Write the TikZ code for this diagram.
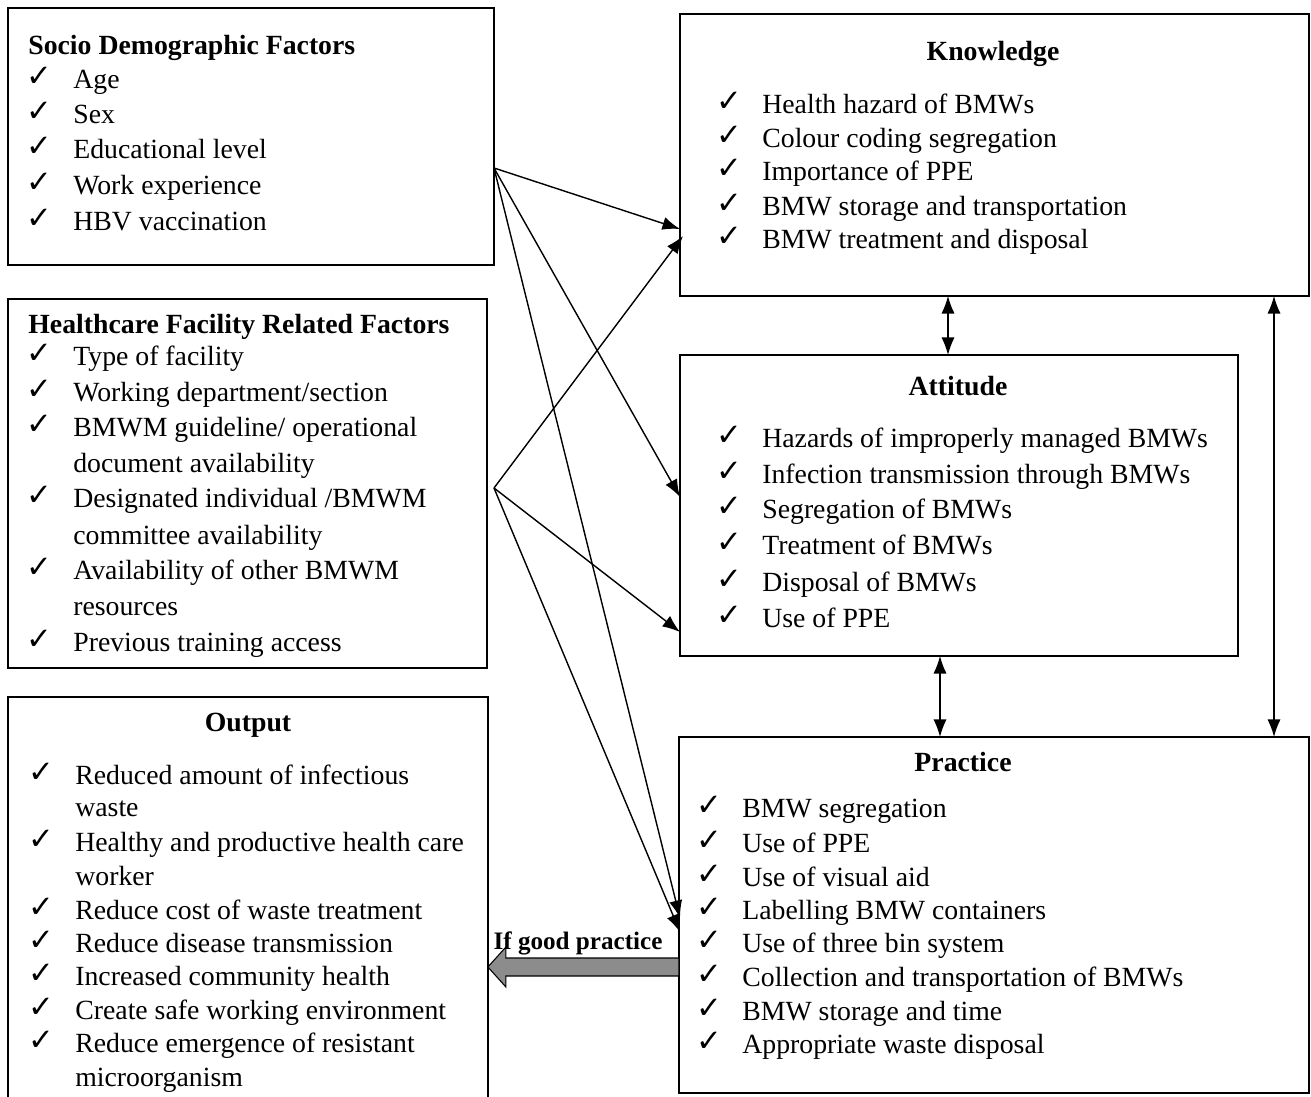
\documentclass[tikz,border=0pt]{standalone}
\usepackage{fontspec}
\setmainfont{Liberation Serif}
\newfontfamily\checkfont{DejaVu Sans}
\usetikzlibrary{calc,arrows.meta,positioning}
\tikzstyle{box} = [draw,line width=1pt,anchor=north west,inner sep=0pt,outer sep=0pt]
\tikzstyle{title} = [font=\fontsize{15.8}{20}\selectfont\bfseries,inner sep=0pt,anchor=base]
\tikzstyle{item} = [font=\fontsize{15.8}{20}\selectfont,anchor=base west,inner sep=0pt]
\tikzstyle{tick} = [font=\checkfont\fontsize{17.5}{20}\selectfont,anchor=base,inner sep=0pt]
\tikzstyle{link} = [->,line width=0.8pt]
\tikzstyle{both} = [<->,line width=0.8pt]

\begin{document}
\begin{tikzpicture}[x=0.02cm,y=-0.02cm,>={Latex[length=10pt,width=7.5pt]}]
\useasboundingbox (0,0) rectangle (1311,1097);

%%% Draw boxes
\node[box,minimum width=9.72cm,minimum height=5.14cm] (socio) at (8,8) {};
\node[box,minimum width=9.58cm,minimum height=7.38cm] (facility) at (8,299) {};
\node[box,draw=none,minimum width=9.6cm,minimum height=8cm] (output) at (8,697) {};
\draw[line width=1pt] (output.south west) -- (output.north west) -- (output.north east) -- (output.south east);
\node[box,minimum width=12.58cm,minimum height=5.64cm] (knowledge) at (680,14) {};
\node[box,minimum width=11.16cm,minimum height=6.02cm] (attitude) at (680,355) {};
\node[box,minimum width=12.6cm,minimum height=7.12cm] (practice) at (679,737) {};

%%% Socio demographic factors
\node[title,anchor=base west] (sotitle) at (28,55) {Socio Demographic Factors};
\foreach \y/\c/\t [count=\i] in {80/1/Age,115/1/Sex,150/1/Educational level,186/1/Work experience,222/1/HBV vaccination} {
    \ifnum\c=1 \node[tick] (sotick\i) at (39,\y+7) {✓}; \fi
    \node[item] (soitem\i) at (73,\y+9) {\t};
}

%%% Healthcare facility factors
\node[title,anchor=base west] (hftitle) at (28,334) {Healthcare Facility Related Factors};
\foreach \y/\c/\t [count=\i] in {357/1/Type of facility,393/1/{Working department/section},428/1/{BMWM guideline/ operational},464/0/document availability,499/1/{Designated individual /BMWM},536/0/committee availability,571/1/Availability of other BMWM,606/0/resources,642/1/Previous training access} {
    \ifnum\c=1 \node[tick] (hftick\i) at (39,\y+7) {✓}; \fi
    \node[item] (hfitem\i) at (73,\y+9) {\t};
}

%%% Output
\node[title] (outtitle) at (248,731) {Output};
\foreach \y/\c/\t [count=\i] in {775/1/Reduced amount of infectious,807/0/waste,842/1/Healthy and productive health care,876/0/worker,910/1/Reduce cost of waste treatment,943/1/Reduce disease transmission,976/1/Increased community health,1010/1/Create safe working environment,1043/1/Reduce emergence of resistant,1077/0/microorganism} {
    \ifnum\c=1 \node[tick] (outtick\i) at (41,\y+7) {✓}; \fi
    \node[item] (outitem\i) at (75,\y+9) {\t};
}

%%% Knowledge
\node[title] (kntitle) at (993,61) {Knowledge};
\foreach \y/\t [count=\i] in {105/Health hazard of BMWs,139/Colour coding segregation,172/Importance of PPE,207/BMW storage and transportation,240/BMW treatment and disposal} {
    \node[tick] (kntick\i) at (729,\y+7) {✓};
    \node[item] (knitem\i) at (762,\y+9) {\t};
}

%%% Attitude
\node[title] (attitle) at (958,396) {Attitude};
\foreach \y/\t [count=\i] in {439/Hazards of improperly managed BMWs,475/Infection transmission through BMWs,510/Segregation of BMWs,546/Treatment of BMWs,582/Disposal of BMWs,618/Use of PPE} {
    \node[tick] (attick\i) at (729,\y+7) {✓};
    \node[item] (atitem\i) at (762,\y+9) {\t};
}

%%% Practice
\node[title] (prtitle) at (963,771) {Practice};
\foreach \y/\t [count=\i] in {808/BMW segregation,843/Use of PPE,877/Use of visual aid,910/Labelling BMW containers,943/Use of three bin system,977/Collection and transportation of BMWs,1011/BMW storage and time,1044/Appropriate waste disposal} {
    \node[tick] (prtick\i) at (709,\y+7) {✓};
    \node[item] (pritem\i) at (742,\y+9) {\t};
}

%%% Factor arrows
\coordinate (soout) at (494,168);
\coordinate (hfout) at (494,488);
\coordinate (knin1) at (680,229);
\coordinate (knin2) at (683,236);
\coordinate (atin1) at (680,497);
\coordinate (atin2) at (680,632);
\coordinate (prin1) at (680,918);
\coordinate (prin2) at (680,932);
\draw[link] (soout) -- (knin1);
\draw[link] (soout) -- (atin1);
\draw[link] (soout) -- (prin1);
\draw[link] (hfout) -- (knin2);
\draw[link] (hfout) -- (atin2);
\draw[link] (hfout) -- (prin2);

%%% Arrows between knowledge, attitude and practice
\coordinate (kax) at (948,0);
\coordinate (apx) at (940,0);
\coordinate (kpx) at (1274,0);
\draw[both] (knowledge.south -| kax) -- (attitude.north -| kax);
\draw[both] (attitude.south -| apx) -- (practice.north -| apx);
\draw[both] (knowledge.south -| kpx) -- (practice.north -| kpx);

%%% Output arrow
\coordinate (gs) at (practice.west |- 0,967);
\coordinate (gt) at (output.east |- 0,967);
\draw[fill=black!45,line width=0.6pt] ($(gs)+(0,-9)$) -- ($(gt)+(18,-9)$) -- ($(gt)+(18,-20)$) -- (gt)
    -- ($(gt)+(18,20)$) -- ($(gt)+(18,9)$) -- ($(gs)+(0,9)$) -- cycle;
\node[title,font=\fontsize{14.3}{17}\selectfont\bfseries] (good) at (578,949) {If good practice};
\end{tikzpicture}
\end{document}
